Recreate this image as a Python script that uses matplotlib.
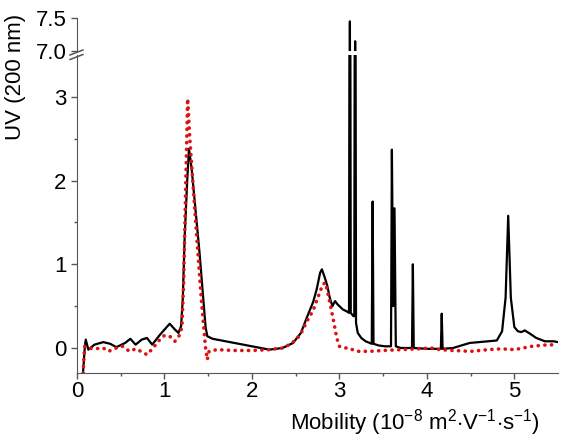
import matplotlib
matplotlib.use('Agg')
import matplotlib.pyplot as plt
from matplotlib.lines import Line2D

plt.rcParams['font.family'] = ['Liberation Sans', 'DejaVu Sans']
plt.rcParams['mathtext.fontset'] = 'custom'
plt.rcParams['mathtext.rm'] = 'Liberation Sans'
plt.rcParams['mathtext.it'] = 'Liberation Sans:italic'

# Black trace (sample)
preto_x = [0.07, 0.09, 0.10, 0.13, 0.20, 0.30, 0.38, 0.45, 0.55, 0.61, 0.67, 0.74, 0.80, 0.86,
           0.95, 1.06, 1.12, 1.16, 1.19, 1.21, 1.23, 1.26, 1.28, 1.31, 1.40, 1.47, 1.49, 1.55,
           1.70, 1.90, 2.05, 2.20, 2.35, 2.47, 2.56, 2.63, 2.70, 2.74, 2.78, 2.80, 2.83, 2.86,
           2.89, 2.92, 2.95, 2.98, 3.00, 3.04, 3.08, 3.11, 3.12, 3.13, 3.16, 3.17, 3.18, 3.19,
           3.21, 3.25, 3.30, 3.37, 3.38, 3.39, 3.45, 3.52, 3.59, 3.60, 3.615, 3.63, 3.645, 3.70,
           3.83, 3.84, 3.85, 4.00, 4.16, 4.17, 4.18, 4.30, 4.49, 4.70, 4.80, 4.86, 4.90, 4.93,
           4.96, 5.00, 5.04, 5.08, 5.12, 5.18, 5.25, 5.35, 5.45, 5.50]
preto_y = [-0.28, 0.02, 0.10, -0.02, 0.04, 0.07, 0.05, 0.01, 0.06, 0.11, 0.04, 0.10, 0.12, 0.04,
           0.16, 0.29, 0.22, 0.18, 0.26, 0.60, 1.30, 2.00, 2.38, 2.15, 1.15, 0.25, 0.14, 0.11,
           0.08, 0.04, 0.01, -0.02, 0.00, 0.06, 0.18, 0.37, 0.55, 0.70, 0.90, 0.94, 0.85, 0.75,
           0.60, 0.50, 0.56, 0.52, 0.50, 0.46, 0.44, 0.42, 7.45, 0.42, 0.38, 0.38, 7.15, 0.30,
           0.18, 0.12, 0.08, 0.05, 1.75, 0.05, 0.03, 0.02, 0.02, 2.37, 0.50, 1.67, 0.02, 0.00,
           0.00, 1.00, 0.00, -0.01, -0.01, 0.41, -0.01, 0.00, 0.06, 0.08, 0.09, 0.20, 0.60, 1.58,
           0.60, 0.25, 0.20, 0.19, 0.21, 0.17, 0.12, 0.08, 0.08, 0.07]

# Red trace (reference)
vermelho_x = [0.07, 0.08, 0.09, 0.12, 0.20, 0.30, 0.36, 0.45, 0.52, 0.60, 0.67, 0.75, 0.80,
              0.87, 0.93, 1.00, 1.06, 1.12, 1.17, 1.20, 1.22, 1.24, 1.265, 1.29, 1.35, 1.42,
              1.47, 1.49, 1.51, 1.60, 1.80, 2.00, 2.20, 2.35, 2.45, 2.55, 2.63, 2.70, 2.76,
              2.81, 2.84, 2.88, 2.93, 2.97, 3.00, 3.05, 3.10, 3.20, 3.35, 3.50, 3.70, 3.90,
              4.05, 4.15, 4.30, 4.50, 4.70, 4.85, 5.00, 5.10, 5.20, 5.30, 5.40, 5.50]
vermelho_y = [-0.30, -0.10, 0.02, 0.00, -0.01, 0.00, -0.04, 0.00, 0.02, -0.04, -0.01, -0.05, -0.08,
              0.00, 0.08, 0.15, 0.14, 0.08, 0.15, 0.25, 0.80, 1.80, 2.98, 2.50, 1.60, 0.60,
              0.00, -0.14, -0.04, -0.02, -0.03, -0.03, -0.02, 0.00, 0.05, 0.15, 0.32, 0.45, 0.62,
              0.76, 0.78, 0.60, 0.34, 0.12, 0.02, 0.00, 0.00, -0.04, -0.04, -0.03, -0.02, -0.01,
              0.00, -0.02, -0.03, -0.04, -0.02, -0.01, -0.02, 0.00, 0.02, 0.03, 0.04, 0.03]

fig = plt.figure(figsize=(5.62, 4.41), dpi=100)
ax_cima = fig.add_axes([0.137, 0.884, 0.856, 0.075])
ax = fig.add_axes([0.137, 0.154, 0.856, 0.721])

for a in (ax, ax_cima):
    a.plot(preto_x, preto_y, color='black', linewidth=1.6, zorder=2)
    a.plot(vermelho_x, vermelho_y, color='#e01010', linewidth=2.6,
           linestyle=(0, (0.05, 1.8)), dash_capstyle='round', zorder=3)
    a.set_xlim(0, 5.5)
    a.spines['top'].set_visible(False)
    a.spines['right'].set_visible(False)
    a.spines['left'].set_color('#555555')
    a.spines['bottom'].set_color('#555555')
    a.tick_params(direction='out', length=4, width=1, colors='#555555',
                  labelcolor='black', labelsize=16)
    a.tick_params(which='minor', direction='out', length=2.5, width=1, colors='#555555')

# Lower panel
ax.set_ylim(-0.3, 3.5)
ax.set_yticks([0, 1, 2, 3])
ax.set_yticks([0.5, 1.5, 2.5], minor=True)
ax.set_xticks([0, 1, 2, 3, 4, 5])
ax.set_xticks([0.5, 1.5, 2.5, 3.5, 4.5], minor=True)
ax.tick_params(axis='x', pad=2)

# Upper panel (broken axis)
ax_cima.set_ylim(7.0, 7.5)
ax_cima.set_yticks([7.0, 7.5])
ax_cima.set_yticklabels(['7.0', '7.5'])
ax_cima.spines['bottom'].set_visible(False)
ax_cima.set_xticks([])

# Break marks on the y axis
for y0 in (55, 59.5):
    fig.add_artist(Line2D([70 / 562, 83 / 562], [1 - y0 / 441, 1 - (y0 - 5) / 441],
                          color='#555555', linewidth=1.1, transform=fig.transFigure))

fig.text(0.027, 0.825, 'UV (200 nm)', rotation=90, ha='center', va='center', fontsize=16)
fig.text(0.738, 0.042,
         r'Mobility (10$^{\mathregular{-8}}$ m$^{\mathregular{2}}$$\cdot$V$^{\mathregular{-1}}$$\cdot$s$^{\mathregular{-1}}$)',
         ha='center', va='center', fontsize=16)

fig.savefig('out.png', dpi=100)
